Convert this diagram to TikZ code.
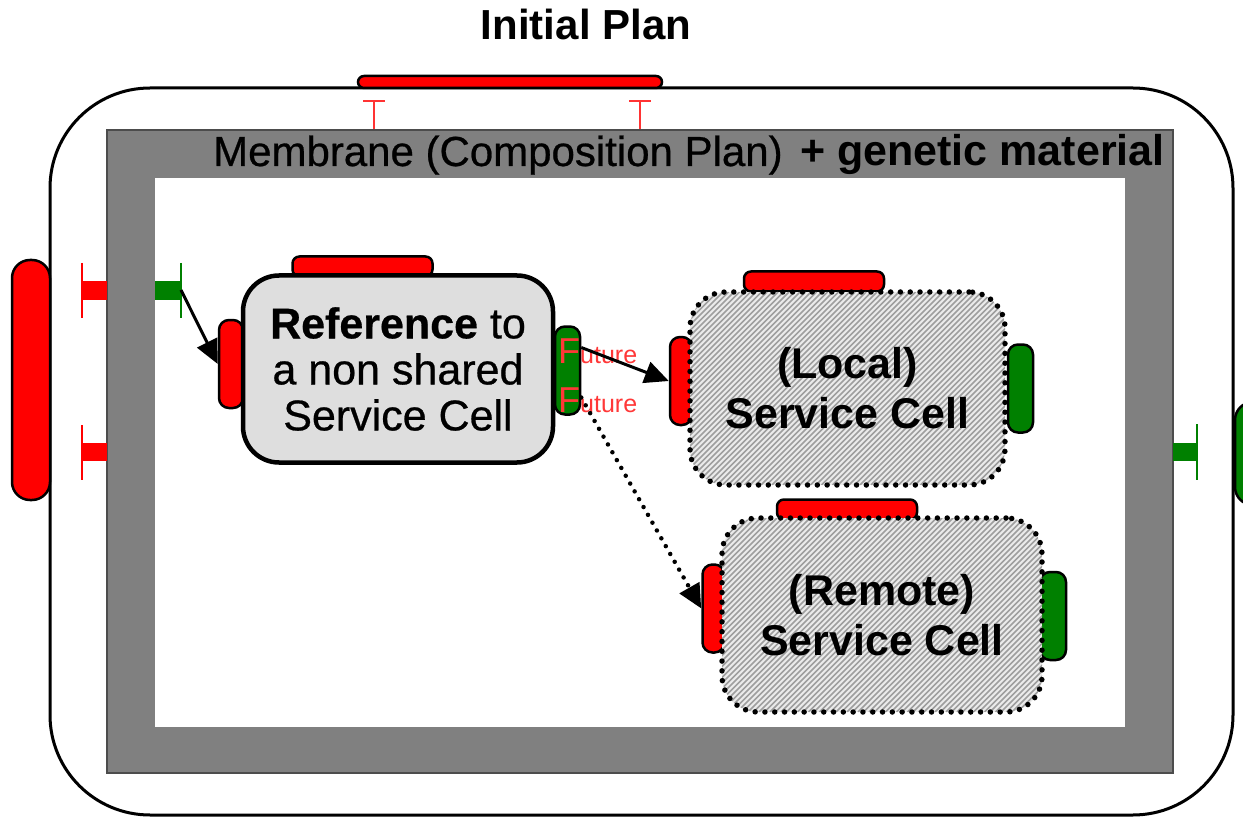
\documentclass[tikz,border=0pt]{standalone}
\usepackage{fontspec}
\setmainfont{Liberation Sans}
\newfontfamily\medfont[FakeBold=0.6]{Liberation Sans}
\usetikzlibrary{arrows.meta}

\definecolor{darkgreen}{rgb}{0,0.5,0}
\definecolor{membranegray}{rgb}{0.5,0.5,0.5}
\definecolor{futurered}{rgb}{1,0.22,0.22}

% hatched background of a service cell: x0,y0,x1,y1
\newcommand\hatchbox[4]{%
  \begin{scope}
    \clip[rounded corners=36pt] (#1,#2) rectangle (#3,#4);
    \fill[black!8] (#1,#2) rectangle (#3,#4);
    \pgfmathsetmacro\hh{#4-#2}
    \foreach \d in {0,5.5,...,560}{
      \draw[black!38,line width=1.6pt] ({#1+\d-\hh},#4) -- ({#1+\d},#2);
    }
  \end{scope}}

\tikzset{
  port/.style={draw=black,line width=2.5pt,rounded corners=10pt,inner sep=0pt,
    minimum width=24pt,minimum height=88pt},
  redport/.style={port,fill=red},
  greenport/.style={port,fill=darkgreen},
  topbar/.style={draw=black,line width=2.5pt,fill=red,rounded corners=7pt,
    inner sep=0pt,minimum width=140pt,minimum height=20pt},
  cell/.style={draw=black,line width=4.5pt,rounded corners=36pt,inner sep=0pt,
    align=center,font=\medfont\fontsize{43}{46}\selectfont},
  refcell/.style={cell,fill=black!13},
  hatchcell/.style={cell,line width=5.5pt,dash pattern=on 0pt off 9.8pt,line cap=round,
    font=\bfseries\fontsize{43}{50}\selectfont},
  tee/.style={line width=1.8pt},
  future/.style={anchor=base west,inner sep=0pt,text=futurered,
    font=\fontsize{25}{25}\selectfont}
}

\begin{document}
\begin{tikzpicture}[x=1pt,y=-1pt,>={Triangle[length=24pt,width=22pt]}]

\useasboundingbox (0,0) rectangle (1243,821);
\clip (0,0) rectangle (1243,821);

% plan
\draw[line width=3pt,fill=white,rounded corners=100pt] (50,88) rectangle (1233,815);
\node[font=\bfseries\fontsize{42}{42}\selectfont,anchor=base] (title) at (586,40) {Initial Plan};
\draw[line width=2.5pt,fill=red,rounded corners=6pt] (358,76) rectangle (662,88);
\draw[tee,draw=red!80] (363,101) -- (385,101) (374,101) -- (374,130);
\draw[tee,draw=red!80] (629,101) -- (651,101) (640,101) -- (640,130);

% side receptors
\draw[line width=2.5pt,fill=red,rounded corners=18pt] (12,260) rectangle (50,500);
\draw[line width=2.5pt,fill=darkgreen,rounded corners=18pt] (1235,402) rectangle (1273,505);

% membrane
\draw[fill=membranegray,draw=black!70,line width=1.5pt] (107,130) rectangle (1173,773);
\fill[white] (155,178) rectangle (1125,727);
\node[anchor=base west,inner sep=0pt,font=\medfont\fontsize{42}{42}\selectfont] (membrane) at (213,166)
  {Membrane (Composition Plan)};
\node[anchor=base west,inner sep=0pt,font=\bfseries\fontsize{43}{43}\selectfont] (genetic) at (800,166)
  {+ genetic material};

% tees through the membrane
\fill[red] (82,281) rectangle (107,300);
\draw[tee,draw=red] (82,263) -- (82,318);
\fill[red] (82,443) rectangle (107,461);
\draw[tee,draw=red] (82,425) -- (82,480);
\fill[darkgreen] (155,281) rectangle (181,300);
\draw[tee,draw=darkgreen] (181,263) -- (181,318);
\coordinate (gtee) at (181,290);
\fill[darkgreen] (1173,443) rectangle (1197,461);
\draw[tee,draw=darkgreen] (1197,424) -- (1197,480);

% ports
\node[topbar] (reftop) at (362.5,266.5) {};
\node[redport] (refin) at (231,364) {};
\node[greenport,minimum width=25pt] (refout) at (567.5,370.5) {};

\node[topbar] (loctop) at (814,281.5) {};
\node[redport,minimum width=22pt] (locin) at (681,381) {};
\node[greenport,minimum width=25pt] (locout) at (1020.5,388.5) {};

\node[topbar] (remtop) at (847,509.5) {};
\node[redport,minimum width=22pt] (remin) at (713.5,608.5) {};
\node[greenport,minimum width=26pt] (remout) at (1053,616) {};

% cells
\hatchbox{690}{292}{1005}{485}
\hatchbox{722}{518}{1042}{712}
\node[refcell,minimum width=310pt,minimum height=187pt] (ref) at (398,369)
  {{\bfseries Reference} to\\a non shared\\Service Cell};
\node[hatchcell,minimum width=315pt,minimum height=193pt]
  (local) at (847.5,388.5) {(Local)\\Service Cell};
\node[hatchcell,minimum width=320pt,minimum height=194pt]
  (remote) at (882,615) {(Remote)\\Service Cell};

% futures
\node[future] (fut1) at (558,363) {{\fontsize{36}{36}\selectfont F}uture};
\node[future] (fut2) at (558,412) {{\fontsize{36}{36}\selectfont F}uture};

% connectors
\draw[->,line width=3pt] (gtee) -- (refin.west);
\draw[->,line width=3pt] ([yshift=23pt]refout.east) -- (locin.west);
\draw[->,line width=4.5pt,dash pattern=on 0pt off 9pt,line cap=round]
  ([yshift=-27pt]refout.east) -- (remin.west);

\end{tikzpicture}
\end{document}
